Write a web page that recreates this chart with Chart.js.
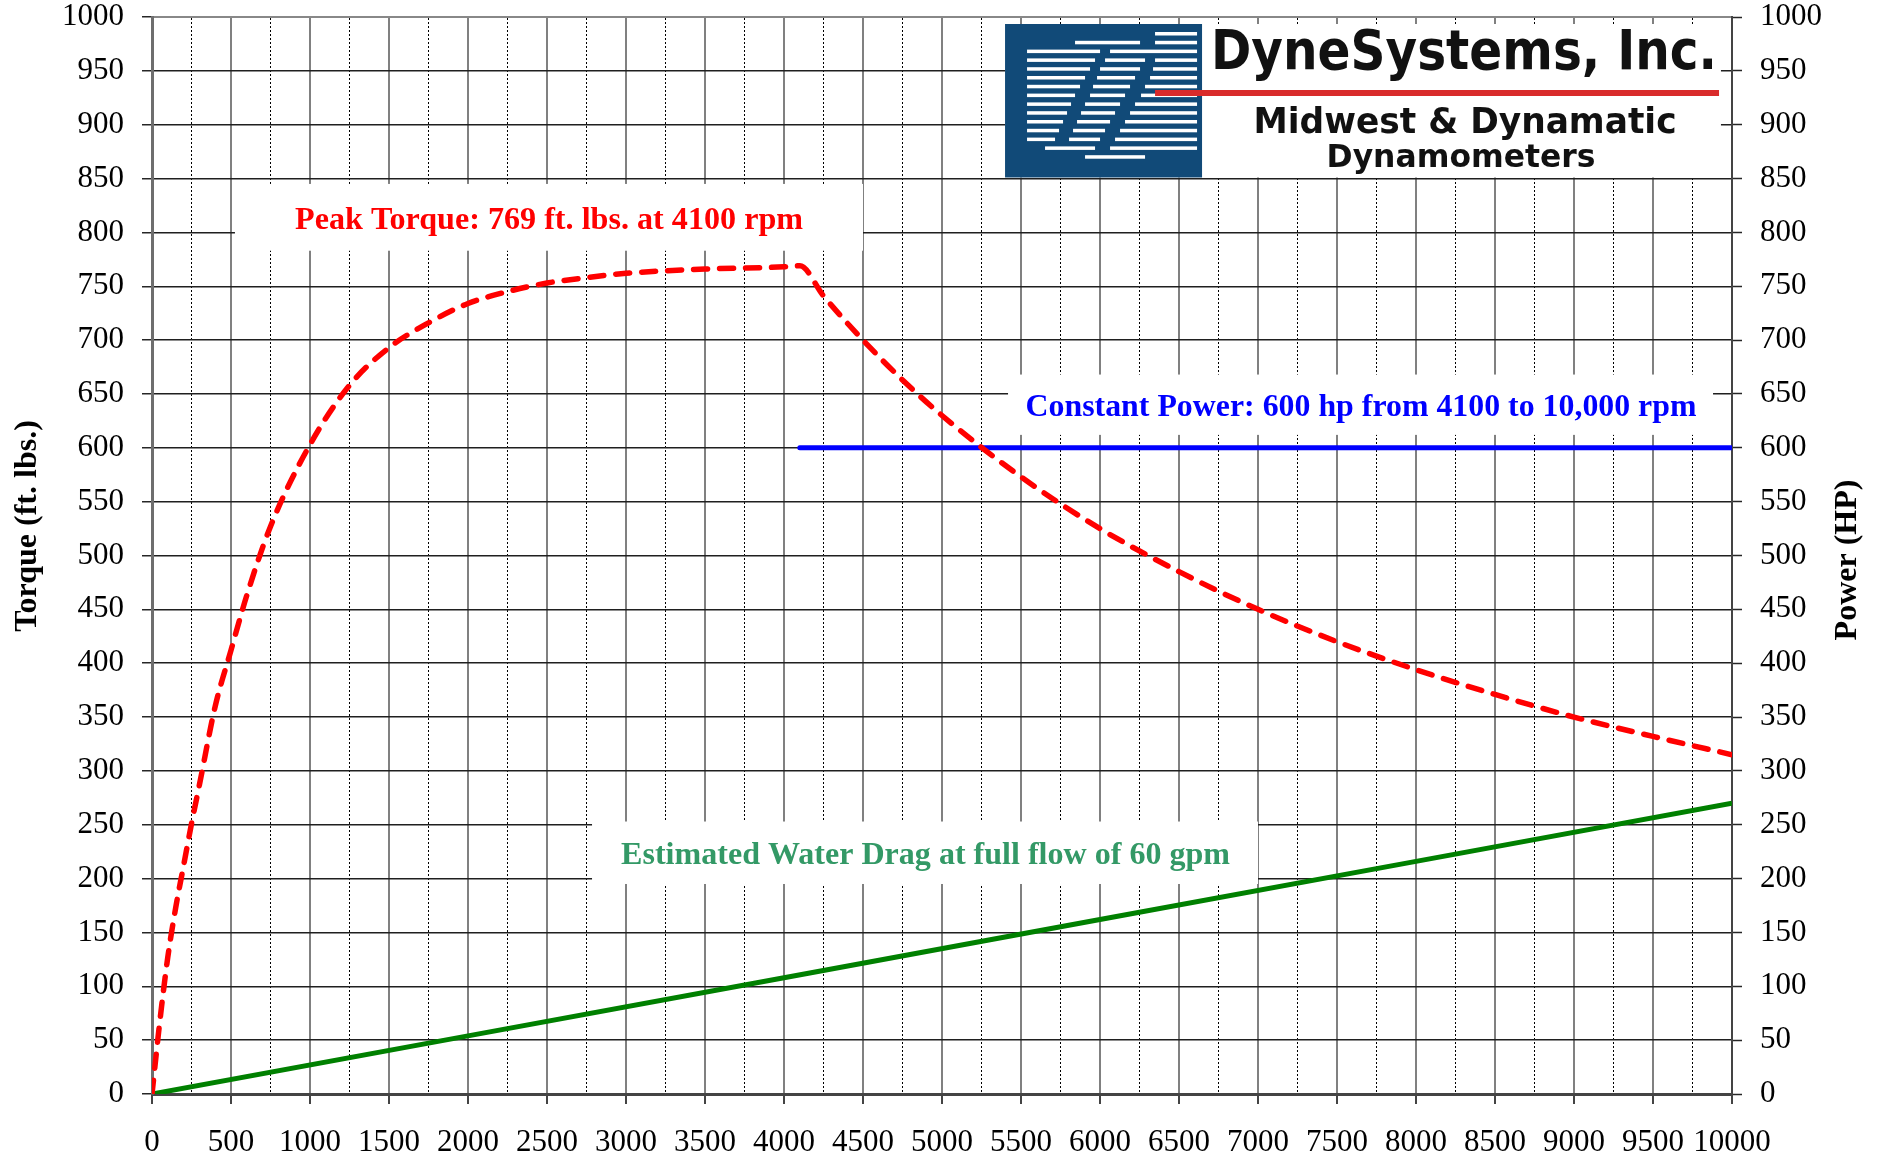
<!DOCTYPE html>
<html>
<head>
<meta charset="utf-8">
<title>Dynamometer Torque and Power</title>
<script src="https://cdn.jsdelivr.net/npm/chart.js@4.4.1/dist/chart.umd.min.js"></script>
<style>
  html, body { margin: 0; padding: 0; background: #fff; }
  canvas { display: block; }
</style>
</head>
<body>
<canvas id="dyno" width="1885" height="1159"></canvas>
<script>
// ---------- Curve data ----------
const torqueRpm = [0, 50, 100, 150, 200, 250, 300, 400, 500, 600, 750, 1000, 1250, 1500, 1750, 2000, 2250, 2500, 2750, 3000,
  3500, 4000, 4100, 4250, 4500, 4750, 5000, 5500, 6000, 6500, 7000, 7500, 8000, 8500, 9000, 9500, 10000];
const torqueFtLbs = [0, 68, 127, 173, 212, 251, 287, 360, 412, 463, 527, 603, 658, 693, 716, 734, 745, 753, 758, 762,
  766, 768, 769, 741, 700, 663, 630, 573, 525, 485, 450, 420, 394, 371, 350, 332, 315];

const powerRpm = [4100, 10000];
const powerHp = [600, 600];

const dragRpm = [0, 2000, 4000, 6000, 8000, 10000];
const dragValues = [0, 54, 108, 162, 216, 270];

const RPM_MAX = 10000;
const VALUE_MAX = 1000;

const toPts = (xs, ys) => xs.map((x, i) => ({ x, y: ys[i] }));

// ---------- Text panels on the plot ----------
const notes = [
  { text: 'Peak Torque: 769 ft. lbs. at 4100 rpm', color: '#ff0000', from: [525, 783], to: [4500, 845], center: 2513, baseline: 803, width: 508 },
  { text: 'Constant Power: 600 hp from 4100 to 10,000 rpm', color: '#0000ff', from: [5418, 612], to: [9880, 668], center: 7652, baseline: 629.5, width: 671 },
  { text: 'Estimated Water Drag at full flow of 60 gpm', color: '#339966', from: [2785, 195], to: [7000, 253], center: 4896, baseline: 213.5, width: 609 },
];
const logoArea = { from: [5399, 851], to: [9930, 993.5] };

// white stripes of the logo mark, x ranges inside the blue block
const logoStripes = [
  [[150, 192]],
  [[70, 135], [150, 192]],
  [[22, 95], [105, 192]],
  [[22, 90], [100, 140], [150, 192]],
  [[22, 85], [95, 135], [148, 192]],
  [[22, 80], [92, 130], [145, 192]],
  [[22, 75], [88, 125], [140, 192]],
  [[22, 70], [85, 120], [136, 192]],
  [[22, 66], [80, 115], [130, 192]],
  [[22, 62], [76, 110], [125, 192]],
  [[22, 58], [72, 105], [120, 192]],
  [[22, 54], [68, 100], [115, 192]],
  [[22, 50], [64, 95], [110, 192]],
  [[40, 90], [105, 192]],
  [[80, 140]],
];

function fitText(ctx, text, cx, y, width) {
  const w = ctx.measureText(text).width;
  ctx.save();
  ctx.translate(cx, y);
  ctx.scale(width / w, 1);
  ctx.textAlign = 'center';
  ctx.textBaseline = 'alphabetic';
  ctx.fillText(text, 0, 0);
  ctx.restore();
}

function drawLogo(ctx, L, T, R, B) {
  ctx.fillStyle = '#fff';
  ctx.fillRect(L, T, R - L, B - T);
  // blue mark
  ctx.fillStyle = '#114a78';
  ctx.fillRect(L, T, 197, B - T);
  ctx.fillStyle = '#fff';
  logoStripes.forEach((row, i) => {
    const y = T + 8 + i * 8.8;
    row.forEach(([a, b]) => ctx.fillRect(L + a, y, b - a, 3.5));
  });
  // red rule
  ctx.fillStyle = '#d92b2b';
  ctx.fillRect(L + 150, T + 66, 564, 6);
  // lettering
  const face = '"Liberation Sans Narrow", "DejaVu Sans Condensed", "Liberation Sans", sans-serif';
  ctx.fillStyle = '#111';
  ctx.font = 'bold 56px ' + face;
  fitText(ctx, 'DyneSystems, Inc.', L + 459, T + 45, 506);
  ctx.font = 'bold 35px ' + face;
  fitText(ctx, 'Midwest & Dynamatic', L + 460, T + 109, 423);
  ctx.font = 'bold 32px ' + face;
  fitText(ctx, 'Dynamometers', L + 456, T + 143, 269);
}

const panels = {
  id: 'panels',
  beforeDatasetsDraw(chart) {
    const { ctx, scales: { x, y } } = chart;
    ctx.save();
    notes.forEach(n => {
      const x0 = x.getPixelForValue(n.from[0]), x1 = x.getPixelForValue(n.to[0]);
      const y0 = y.getPixelForValue(n.to[1]), y1 = y.getPixelForValue(n.from[1]);
      ctx.fillStyle = '#fff';
      ctx.fillRect(x0, y0, x1 - x0, y1 - y0);
      ctx.fillStyle = n.color;
      ctx.font = 'bold 32px "Liberation Serif", "Times New Roman", serif';
      fitText(ctx, n.text, x.getPixelForValue(n.center), y.getPixelForValue(n.baseline), n.width);
    });
    drawLogo(ctx,
      x.getPixelForValue(logoArea.from[0]), y.getPixelForValue(logoArea.to[1]),
      x.getPixelForValue(logoArea.to[0]), y.getPixelForValue(logoArea.from[1]));
    ctx.restore();
  }
};

const axisTitles = {
  id: 'axisTitles',
  afterDraw(chart) {
    const ctx = chart.ctx;
    ctx.save();
    ctx.font = 'bold 32px "Liberation Serif", "Times New Roman", serif';
    ctx.fillStyle = '#000';
    ctx.textAlign = 'center';
    ctx.textBaseline = 'middle';
    ctx.save();
    ctx.translate(28, 526);
    ctx.rotate(-Math.PI / 2);
    ctx.fillText('Torque (ft. lbs.)', 0, 0);
    ctx.restore();
    ctx.translate(1848, 560);
    ctx.rotate(-Math.PI / 2);
    ctx.fillText('Power (HP)', 0, 0);
    ctx.restore();
  }
};

const tickFont = { family: '"Liberation Serif", "Times New Roman", serif', size: 31, lineHeight: 1.1 };

// fixed gutters so the plot frame sits where it should
const fixWidth = w => s => { s.width = w; s.paddingTop = 0; s.paddingBottom = 0; };

new Chart(document.getElementById('dyno'), {
  type: 'line',
  data: {
    datasets: [
      {
        label: 'Torque',
        data: toPts(torqueRpm, torqueFtLbs),
        borderColor: '#ff0000',
        borderWidth: 5.5,
        borderDash: [14, 12],
        borderCapStyle: 'round',
        cubicInterpolationMode: 'monotone',
        pointRadius: 0,
        yAxisID: 'y',
      },
      {
        label: 'Constant power',
        data: toPts(powerRpm, powerHp),
        borderColor: '#0000ff',
        borderWidth: 5,
        borderCapStyle: 'round',
        pointRadius: 0,
        yAxisID: 'y1',
      },
      {
        label: 'Water drag',
        data: toPts(dragRpm, dragValues),
        borderColor: '#008000',
        borderWidth: 5,
        pointRadius: 0,
        yAxisID: 'y',
      },
    ]
  },
  options: {
    responsive: false,
    animation: false,
    layout: { padding: { top: 17, left: 0, right: 0, bottom: 0 } },
    plugins: { legend: { display: false }, tooltip: { enabled: false } },
    scales: {
      x: {
        type: 'linear', position: 'bottom', min: 0, max: RPM_MAX,
        afterFit: s => { s.height = 65; },
        ticks: { stepSize: 500, autoSkip: false, maxRotation: 0, color: '#000', font: tickFont, padding: 22, callback: v => String(v) },
        grid: { color: '#808080', lineWidth: 2, tickLength: 10, tickColor: '#444', tickWidth: 2 },
        border: { color: '#444', width: 3 },
      },
      x2: {
        type: 'linear', position: 'top', min: 0, max: RPM_MAX,
        afterFit: s => { s.height = 0; },
        ticks: { display: false, stepSize: 250, autoSkip: false },
        grid: { drawTicks: false, lineWidth: 1, color: c => (c.tick && c.tick.value % 500 === 0) ? 'rgba(0,0,0,0)' : '#000' },
        border: { color: '#888', width: 2, dash: c => c.type === 'tick' ? [2, 2] : [] },
      },
      y: {
        position: 'left', min: 0, max: VALUE_MAX,
        afterFit: fixWidth(152),
        ticks: { stepSize: 50, autoSkip: false, color: '#000', font: tickFont, padding: 18, callback: v => String(v) },
        grid: { color: '#1f1f1f', lineWidth: 1.5, tickLength: 10, tickColor: '#262626', tickWidth: 1.5 },
        border: { color: '#6e6e6e', width: 3 },
      },
      y1: {
        position: 'right', min: 0, max: VALUE_MAX,
        afterFit: fixWidth(153),
        ticks: { stepSize: 50, autoSkip: false, color: '#000', font: tickFont, padding: 18, callback: v => String(v) },
        grid: { drawOnChartArea: false, tickLength: 10, tickColor: '#262626', tickWidth: 1.5 },
        border: { color: '#444', width: 2 },
      },
    }
  },
  plugins: [panels, axisTitles]
});
</script>
</body>
</html>
